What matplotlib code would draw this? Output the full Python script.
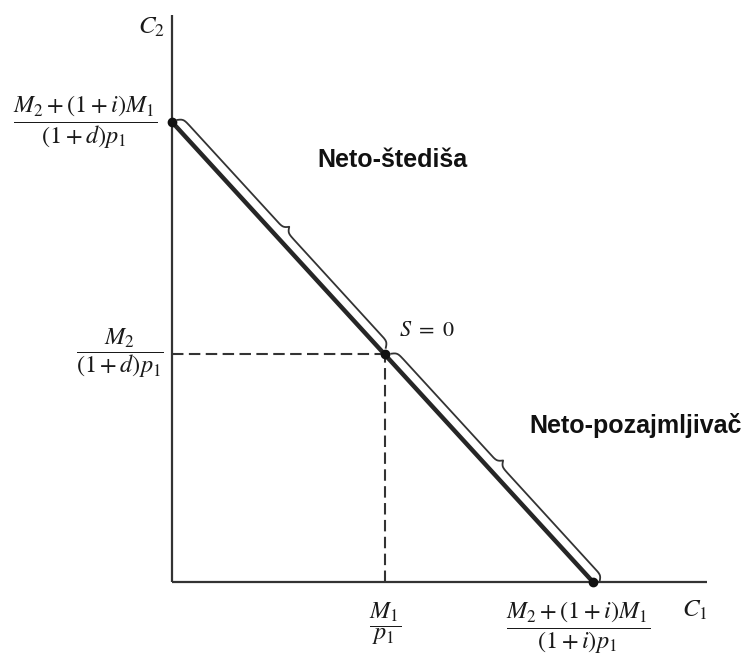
import numpy as np
import matplotlib
matplotlib.use("Agg")
import matplotlib.pyplot as plt
from matplotlib.transforms import IdentityTransform

plt.rcParams['mathtext.fontset'] = 'stix'

# ---- data (normalised budget-line diagram) ----
c1_intercept = 1.0        # (M2 + (1+i)M1) / ((1+i)p1)
c2_intercept = 1.0        # (M2 + (1+i)M1) / ((1+d)p1)
endowment = [0.505, 0.495]  # (M1/p1, M2/((1+d)p1))
axis_ends = [1.271, 1.233]  # extent of the C1 / C2 axes

label_c2_top = r'$\dfrac{M_2 + (1 + i)M_1}{(1 + d)p_1}$'
label_c2_mid = r'$\dfrac{M_2}{(1 + d)p_1}$'
label_c1_mid = r'$\dfrac{M_1}{p_1}$'
label_c1_end = r'$\dfrac{M_2 + (1 + i)M_1}{(1 + i)p_1}$'
saver_label = 'Neto-štediša'
borrower_label = 'Neto-pozajmljivač'
s_label = r'$S\ =\ 0$'

W, H = 747, 662
fig = plt.figure(figsize=(W / 100, H / 100), dpi=100)
ax = fig.add_axes([0, 0, 1, 1])
ax.set_xlim(-172 / 421, (W - 172) / 421)
ax.set_ylim(-(H - 582) / 460, 582 / 460)
ax.axis('off')

dark = '#262626'

# axes
ax.plot([0, axis_ends[0]], [0, 0], color='#333333', lw=1.6, solid_capstyle='butt')
ax.plot([0, 0], [0, axis_ends[1]], color='#333333', lw=1.6, solid_capstyle='butt')

# budget line
ax.plot([0, c1_intercept], [c2_intercept, 0], color=dark, lw=3.2, solid_capstyle='round')

# dashed guides
ax.plot([0, endowment[0]], [endowment[1], endowment[1]], color='#333333', lw=1.5,
        linestyle=(0, (5.5, 2.6)))
ax.plot([endowment[0], endowment[0]], [0, endowment[1]], color='#333333', lw=1.5,
        linestyle=(0, (5.5, 2.6)))

# dots
ax.plot([0, endowment[0], c1_intercept], [c2_intercept, endowment[1], 0], 'o',
        color='#111111', ms=6)


def brace(p0, p1, h=10.5, beta=0.55, trim0=0.0, trim1=0.0):
    """curly brace drawn in display pixels, offset above the segment p0->p1"""
    a = ax.transData.transform(p0)
    b = ax.transData.transform(p1)
    d = b - a
    L = np.hypot(*d)
    u = d / L
    n = np.array([-u[1], u[0]])
    if n[0] + n[1] < 0:
        n = -n
    a = a + u * trim0
    L = L - trim0 - trim1
    s = np.linspace(0, L / 2, 400)
    yh = 1 / (1 + np.exp(-beta * (s - s[0]))) + 1 / (1 + np.exp(-beta * (s - s[-1])))
    s_full = np.concatenate([s, L - s[::-1][1:]])
    y_full = np.concatenate([yh, yh[::-1][1:]])
    pts = a[None, :] + s_full[:, None] * u[None, :] + (h * y_full)[:, None] * n[None, :]
    ax.plot(pts[:, 0], pts[:, 1], color='#333333', lw=1.3, transform=IdentityTransform())


brace((0, c2_intercept), endowment, trim0=2, trim1=4)
brace(endowment, (c1_intercept, 0), trim0=4, trim1=-4)


def px(x, y):
    return ax.transData.inverted().transform((x, H - y))


fs = 17.5
ax.text(*px(85, 128), label_c2_top, fontsize=fs, ha='center', va='baseline', color='#1a1a1a')
ax.text(*px(120, 357), label_c2_mid, fontsize=fs, ha='center', va='baseline', color='#1a1a1a')
ax.text(*px(385, 631), label_c1_mid, fontsize=fs, ha='center', va='baseline', color='#1a1a1a')
ax.text(*px(578, 634), label_c1_end, fontsize=fs, ha='center', va='baseline', color='#1a1a1a')
ax.text(*px(695, 610), r'$C_1$', fontsize=18, ha='center', va='center', color='#1a1a1a')
ax.text(*px(152, 27), r'$C_2$', fontsize=18, ha='center', va='center', color='#1a1a1a')
ax.text(*px(427, 330), s_label, fontsize=16, ha='center', va='center', color='#1a1a1a')

ax.text(*px(392, 160), saver_label, fontsize=18, fontweight='bold',
        family='Liberation Sans', ha='center', va='center', color='#111111')
ax.text(*px(636, 425), borrower_label, fontsize=18, fontweight='bold',
        family='Liberation Sans', ha='center', va='center', color='#111111')

fig.savefig('out.png', dpi=100)
